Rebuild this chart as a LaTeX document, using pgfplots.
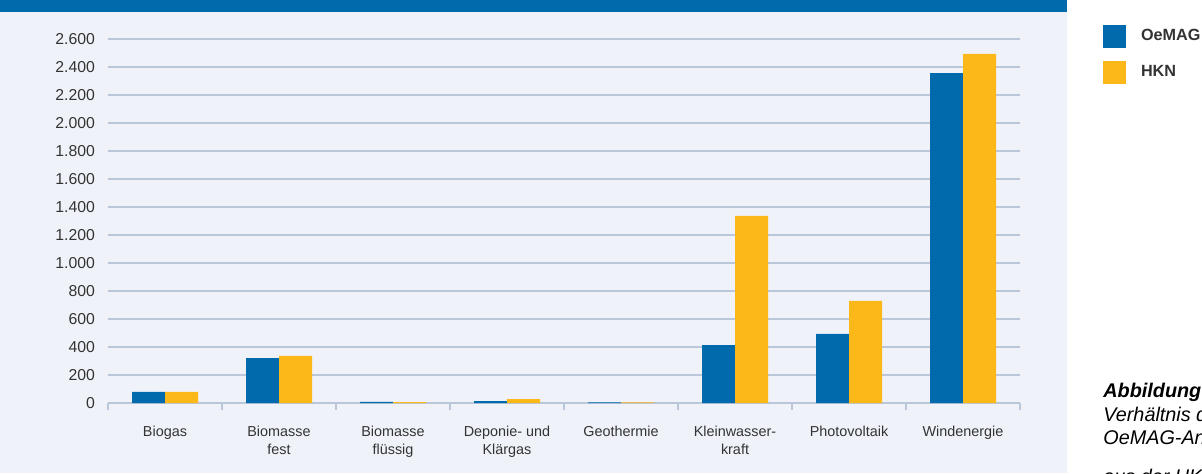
\documentclass[border=0pt]{standalone}
\usepackage{pgfplots}
\pgfplotsset{compat=1.18}
\usepackage{fontspec}
\setmainfont{Liberation Sans}
\definecolor{oblue}{HTML}{006AAD}
\definecolor{hyel}{HTML}{FBB818}
\definecolor{panel}{HTML}{EFF3F9}
\definecolor{gridc}{HTML}{BAC6DA}
\definecolor{txt}{HTML}{333333}
\begin{document}
\begin{tikzpicture}[x=1pt,y=1pt]
\clip (0,0) rectangle (601,236.5);
\fill[white] (0,0) rectangle (601,236.5);
\fill[panel] (0,0) rectangle (533.5,230.5);
\fill[oblue] (0,230.5) rectangle (533.5,236.5);
\begin{axis}[
  at={(54pt,35pt)}, anchor=south west,
  width=456pt, height=182pt, scale only axis,
  ymin=0, ymax=2600,
  xmin=-0.5, xmax=7.5,
  ybar=0pt, bar width=16.5pt,
  ytick={0,200,...,2600},
  ymajorgrids, grid style={gridc, line width=0.7pt},
  xtick={0,...,7},
  minor xtick={-0.5,0.5,...,7.5},
  xticklabels={Biogas,{Biomasse\\fest},{Biomasse\\flüssig},{Deponie- und\\Klärgas},Geothermie,{Kleinwasser-\\kraft},Photovoltaik,Windenergie},
  xticklabel style={align=center, font=\fontsize{7.2}{9}\selectfont, text=txt, yshift=-8pt},
  yticklabel style={font=\fontsize{7.9}{9}\selectfont, text=txt, xshift=-3pt},
  /pgf/number format/.cd, 1000 sep={.}, assume math mode=true,
  /pgfplots/.cd,
  axis x line*=bottom, axis y line*=left,
  y axis line style={draw=none},
  x axis line style={gridc, line width=0.7pt},
  major x tick style={draw=none},
  major y tick style={draw=none},
  minor x tick style={gridc, line width=0.7pt},
  tick align=outside, minor tick length=3.5pt, major tick length=0pt,
  legend style={at={(1.084,1.05)}, anchor=north west, draw=none, fill=none,
    font=\fontsize{8.1}{9}\selectfont\bfseries, text=txt, row sep=6.5pt,
    /tikz/every odd column/.append style={column sep=5.5pt}},
  legend cell align=left,
  legend image code/.code={\fill[#1] (0pt,-5.75pt) rectangle (11.5pt,5.75pt);},
]
\addplot[fill=oblue, draw=none] coordinates {(0,80) (1,320) (2,8) (3,14) (4,5) (5,414) (6,493) (7,2357)};
\addplot[fill=hyel, draw=none] coordinates {(0,80) (1,336) (2,6) (3,28) (4,5) (5,1336) (6,729) (7,2493)};
\legend{OeMAG,HKN}
\end{axis}
\begin{scope}[font=\fontsize{9.9}{11.5}\selectfont\itshape, text=black]
\node[anchor=base west, inner sep=0] at (551.5,37.6) {\bfseries Abbildung 5:};
\node[anchor=base west, inner sep=0] at (551.5,26) {Verhältnis der};
\node[anchor=base west, inner sep=0] at (551.5,14.5) {OeMAG-Anlagen};
\node[anchor=base west, inner sep=0] at (551.5,-5) {aus der HKN};
\end{scope}
\end{tikzpicture}
\end{document}
